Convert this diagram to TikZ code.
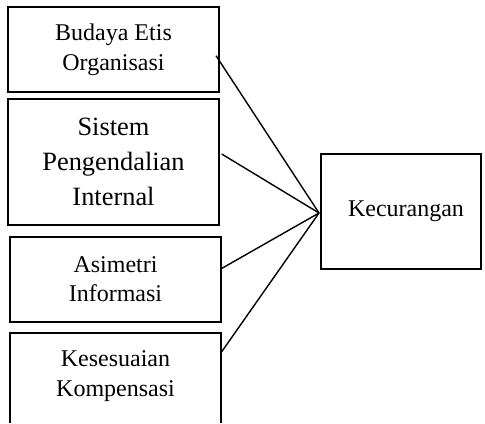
\documentclass[tikz,border=0pt]{standalone}
\usepackage{fontspec}
\setmainfont{Liberation Serif}
\begin{document}
\begin{tikzpicture}[x=0.5pt,y=-0.5pt,
  box/.style={draw, line width=0.7pt, rectangle, inner sep=0pt, align=center, minimum width=105.5pt},
  ln/.style={line width=0.7pt},
  f12/.style={font=\fontsize{12}{15}\selectfont},
  f12b/.style={font=\fontsize{12}{14.5}\selectfont},
  f13/.style={font=\fontsize{13.2}{17.5}\selectfont}]
\useasboundingbox (0,0) rectangle (485,423);
\node[box,f12,minimum height=42.5pt] (b1) at (113.5,49.5) {Budaya Etis\\Organisasi};
\node[box,f13,minimum height=63pt] (b2) at (113.5,162) {Sistem\\Pengendalian\\Internal};
\node[box,f12b,minimum height=42.5pt] (b3) at (115.5,279.5) {Asimetri\\Informasi};
\node[f12,align=center,inner sep=0pt] (b4) at (115.5,376) {Kesesuaian\\Kompensasi};
\draw[ln] (10,423) |- (221,333) -- (221,423);
\node[box,minimum width=80pt,minimum height=57.5pt] (k) at (401,211.5) {};
\node[f12,inner sep=0pt] (kt) at (406,211) {Kecurangan};
\coordinate (hub) at (319,213);
\coordinate (s1) at (216,55.7);
\coordinate (s2) at (221.7,154);
\coordinate (s3) at (220.7,269);
\coordinate (s4) at (221,352.7);
\draw[ln] (s1) -- (hub);
\draw[ln] (s2) -- (hub);
\draw[ln] (s3) -- (hub);
\draw[ln] (s4) -- (hub);
\end{tikzpicture}
\end{document}
